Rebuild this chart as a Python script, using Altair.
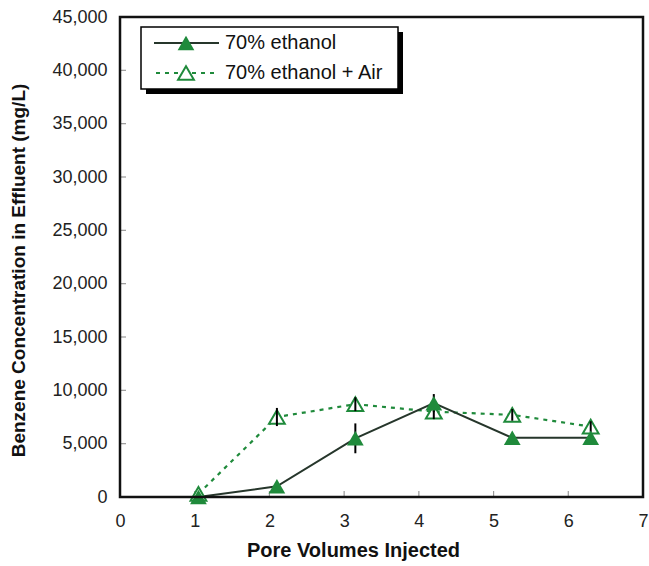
import altair as alt
import pandas as pd

# ---- data ----
pore_volumes = [1.05, 2.1, 3.15, 4.2, 5.25, 6.3]
ethanol = [0, 1000, 5500, 8800, 5550, 5550]
ethanol_err = [0, 0, 1400, 850, 0, 0]
ethanol_air = [300, 7500, 8700, 8000, 7700, 6600]
ethanol_air_err = [0, 850, 650, 700, 550, 500]
series_names = ["70% ethanol", "70% ethanol + Air"]
x_ticks = [0, 1, 2, 3, 4, 5, 6, 7]
y_ticks = [0, 5000, 10000, 15000, 20000, 25000, 30000, 35000, 40000, 45000]

W, H = 523, 480
GREEN = "#1f8a3b"
DARK = "#26362b"
FONT = "Liberation Sans"

df = pd.DataFrame({
    "x": pore_volumes * 2,
    "y": ethanol + ethanol_air,
    "err": ethanol_err + ethanol_air_err,
    "series": [series_names[0]] * 6 + [series_names[1]] * 6,
})
df["lo"] = df["y"] - df["err"]
df["hi"] = df["y"] + df["err"]

xs = alt.Scale(domain=[0, 7], nice=False, zero=False)
ys = alt.Scale(domain=[0, 45000], nice=False)

XA = alt.Axis(
    values=x_ticks, format="d", title="Pore Volumes Injected", grid=False, ticks=False,
    domain=False, labelFontSize=18, labelPadding=15, labelColor="#222", labelFlush=False,
    titleFontSize=20, titleFontWeight="bold", titlePadding=10, titleColor="#111",
    titleX=233, labelFont=FONT, titleFont=FONT)
YA = alt.Axis(
    values=y_ticks, format=",d", title="Benzene Concentration in Effluent (mg/L)",
    grid=False, ticks=False, domain=False, labelFontSize=18, labelPadding=13,
    labelColor="#222", labelFlush=False, titleFontSize=19, titleFontWeight="bold",
    titlePadding=23, titleY=253, titleColor="#111", labelFont=FONT, titleFont=FONT)

X = alt.X("x:Q", scale=xs, axis=XA)
Y = alt.Y("y:Q", scale=ys, axis=YA)

solid = df[df["series"] == series_names[0]]
air = df[df["series"] == series_names[1]]

dashed_line = alt.Chart(air).mark_line(color=GREEN, strokeWidth=2.2, strokeDash=[4, 5]).encode(x=X, y=Y)
solid_line = alt.Chart(solid).mark_line(color=DARK, strokeWidth=2).encode(x=X, y=Y)
open_pts = alt.Chart(air).mark_point(shape="triangle-up", size=250, filled=False,
                                     color=GREEN, strokeWidth=2, fill="white", fillOpacity=1,
                                     opacity=1).encode(x=X, y=Y)
filled_pts = alt.Chart(solid).mark_point(shape="triangle-up", size=280, filled=True,
                                         color=GREEN, opacity=1).encode(x=X, y=Y)
errs = alt.Chart(df[df["err"] > 0]).mark_rule(color="black", strokeWidth=2).encode(
    x=X, y=alt.Y("lo:Q", scale=ys, axis=YA), y2="hi:Q")

# inward tick marks
ytick_df = pd.DataFrame({"y": y_ticks})
xtick_df = pd.DataFrame({"x": x_ticks})
yticks = alt.Chart(ytick_df).mark_rule(color="#999", strokeWidth=1.2).encode(
    y=Y, x=alt.value(0), x2=alt.value(6))
xticks = alt.Chart(xtick_df).mark_rule(color="#999", strokeWidth=1.2).encode(
    x=X, y=alt.value(H), y2=alt.value(H - 6))

# legend box and plot frame
leg = pd.DataFrame({"name": series_names})
one = leg.head(1)
frame = alt.Chart(one).mark_rect(fill=None, fillOpacity=0, stroke="#111", strokeWidth=2.5).encode(
    x=alt.value(0), x2=alt.value(W), y=alt.value(0), y2=alt.value(H))
shadow = alt.Chart(one).mark_rect(color="black").encode(
    x=alt.value(26), x2=alt.value(283), y=alt.value(15), y2=alt.value(77))
box = alt.Chart(one).mark_rect(fill="white", stroke="black", strokeWidth=1.5).encode(
    x=alt.value(21), x2=alt.value(278), y=alt.value(10), y2=alt.value(72))
leg1_line = alt.Chart(one).mark_rule(color=DARK, strokeWidth=2).encode(
    x=alt.value(34), x2=alt.value(99), y=alt.value(26))
leg2_line = alt.Chart(one).mark_rule(color=GREEN, strokeWidth=2.2, strokeDash=[4, 5]).encode(
    x=alt.value(36), x2=alt.value(99), y=alt.value(56))
leg1_pt = alt.Chart(one).mark_point(shape="triangle-up", size=280, filled=True,
                                    color=GREEN, opacity=1).encode(x=alt.value(66), y=alt.value(26))
leg2_pt = alt.Chart(one).mark_point(shape="triangle-up", size=250, filled=False,
                                    color=GREEN, strokeWidth=2, fill="white", fillOpacity=1,
                                    opacity=1).encode(x=alt.value(66), y=alt.value(56))
leg1_txt = alt.Chart(leg.iloc[[0]]).mark_text(align="left", baseline="middle", fontSize=20,
                                              font=FONT, color="#111").encode(
    x=alt.value(105), y=alt.value(26), text="name:N")
leg2_txt = alt.Chart(leg.iloc[[1]]).mark_text(align="left", baseline="middle", fontSize=20,
                                              font=FONT, color="#111").encode(
    x=alt.value(105), y=alt.value(56), text="name:N")

chart = alt.layer(
    dashed_line, yticks, xticks, solid_line, open_pts, errs, filled_pts, frame,
    shadow, box, leg1_line, leg2_line, leg1_pt, leg2_pt, leg1_txt, leg2_txt
).properties(
    width=W, height=H,
    autosize=alt.AutoSizeParams(type="none"),
    padding={"left": 120, "top": 17, "right": 6, "bottom": 69},
).configure_view(
    stroke=None
).configure(background="white")

chart.save("out.html", embed_options={"renderer": "svg", "actions": False})
